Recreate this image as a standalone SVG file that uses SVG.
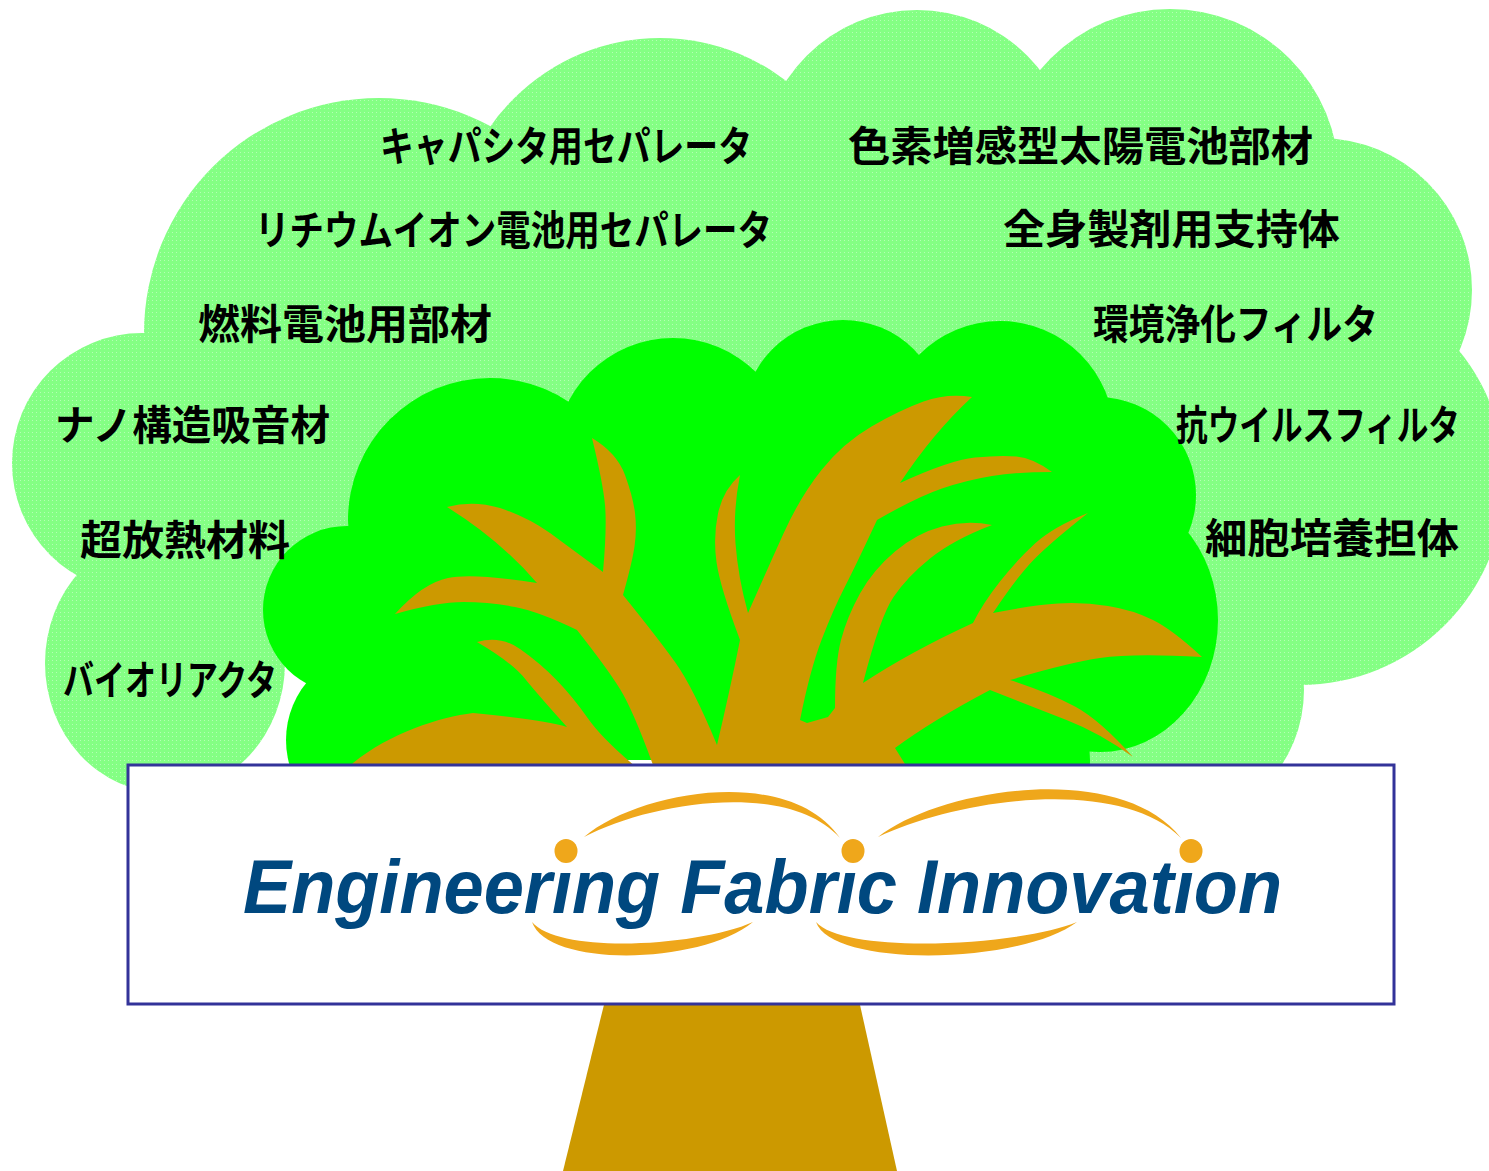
<svg xmlns="http://www.w3.org/2000/svg" width="1489" height="1171" viewBox="0 0 1489 1171">
  <defs>
    <!-- dotted light-green fill for the outer foliage -->
    <pattern id="dots" width="4" height="4" patternUnits="userSpaceOnUse">
      <rect width="4" height="4" fill="#84ff84"/>
      <rect width="1" height="1" fill="#b4ffb4"/>
    </pattern>
    <style>
      .outer { fill: url(#dots); }
      .inner { fill: #00ff00; }
      .wood { fill: #cc9900; }
      .swoosh { fill: #efa71b; }
      .label { font-family: "Noto Sans CJK JP", "Noto Sans CJK SC", sans-serif; font-weight: 700; font-size: 41px; fill: #000; }
      .brand { font-family: "Liberation Sans", Arial, sans-serif; font-weight: 700; font-style: italic; font-size: 76px; fill: #00487f; }
    </style>
  </defs>

  <!-- outer light-green foliage cloud -->
  <g id="cloud" class="outer">
    <polygon points="379,333 660,245 917,166 1170,178 1320,290 1300,480 1167,690 165,663 142,463"/>
    <circle cx="379" cy="333" r="235"/>
    <circle cx="660" cy="245" r="207"/>
    <circle cx="917" cy="166" r="156"/>
    <circle cx="1170" cy="178" r="169"/>
    <circle cx="1320" cy="290" r="152"/>
    <circle cx="1300" cy="480" r="205"/>
    <circle cx="1167" cy="690" r="137"/>
    <circle cx="142" cy="463" r="130"/>
    <ellipse cx="165" cy="663" rx="120" ry="130"/>
  </g>

  <!-- inner bright-green canopy -->
  <g id="canopy" class="inner">
    <polygon points="347,610 490,520 673,456 843,420 1000,435 1098,495 1100,620 960,760 377,760"/>
    <circle cx="490" cy="520" r="142"/>
    <circle cx="673" cy="456" r="118"/>
    <circle cx="843" cy="420" r="100"/>
    <circle cx="1000" cy="435" r="114"/>
    <circle cx="1098" cy="495" r="98"/>
    <ellipse cx="1100" cy="620" rx="118" ry="132"/>
    <circle cx="960" cy="760" r="130"/>
    <circle cx="347" cy="610" r="84"/>
    <circle cx="377" cy="740" r="91"/>
  </g>

  <!-- branches inside the canopy -->
  <g id="branches" class="wood">
    <path d="M640,772 L653,765
      Q633,710 620,689 Q607,668 577,630
      Q540,612 515,607 Q490,602 463.5,602 Q437,602 395,614
      Q423,583 448,578 Q473,573 537,583
      Q500,540 447,507
      Q473,500 500,508 Q527,517 550,533 Q573,550 603,572
      Q607,527 605,505 Q603,483 592,438
      Q617,453 625,475 Q633,497 635,513 Q637,530 634.5,546.5 Q632,563 623,595
      Q657,637 675,662 Q693,687 717,745
      Q730,690 740,640
      Q720,587 716.5,562 Q713,537 718,513.5 Q723,490 740,475
      Q733,510 735.5,543.5 Q738,577 748,613
      Q767,570 783.5,533.5 Q800,497 821.5,470 Q843,443 871.5,426.5 Q900,410 923.5,401.5 Q947,393 972,397
      Q933,433 900,483
      Q950,460 975,457.5 Q1000,455 1016.5,456.5 Q1033,458 1052,472
      Q1017,472 992,476 Q967,480 942,488.5 Q917,497 877,520
      Q857,563 845,586.5 Q833,610 821.5,640 Q810,670 800,720
      L807,723 L828,717 L835,708
      Q835,663 841,640 Q847,617 860,593.5 Q873,570 895,551.5 Q917,533 942,526.5 Q967,520 992,525
      Q953,540 930,558.5 Q907,577 893.5,597 Q880,617 863,683
      Q910,652 973,623
      Q983,603 1000,581.5 Q1017,560 1035,543.5 Q1053,527 1088,513
      Q1050,543 1033.5,560 Q1017,577 993,613
      Q1033,605 1058,603.5 Q1083,602 1108,606 Q1133,610 1153,620 Q1173,630 1202,657
      Q1133,653 1100,658 Q1067,663 1010,680
      Q1050,693 1075,706.5 Q1100,720 1133,757
      Q1100,733 1066.5,720 Q1033,707 990,690
      Q933,720 895,748 L910,772 Z"/>
    <path d="M345,772 L353,763 C390,733 440,717 473,713 C523,718 550,722 567,727
      Q540,697 526,680 Q513,663 477,642
      Q500,635 520,649 Q540,663 556.5,680 Q573,697 588,718.5 Q603,740 642,772 Z"/>
  </g>

  <!-- trunk below the sign -->
  <g id="trunk" class="wood">
    <polygon points="615,960 850,960 897,1171 563,1171"/>
  </g>

  <!-- sign board with logo -->
  <g id="sign">
    <rect x="128" y="765" width="1266" height="239" fill="#ffffff" stroke="#333399" stroke-width="3"/>
    <g id="logo">
      <path class="swoosh" d="M584,837 C640,790 790,765 840,838 C788,780 650,802 584,837 Z"/>
      <path class="swoosh" d="M878,837 C940,788 1120,760 1181,838 C1120,776 960,798 878,837 Z"/>
      <path class="swoosh" d="M532,922 C548,968 700,965 753,922 C700,946 560,955 532,922 Z"/>
      <path class="swoosh" d="M816,922 C832,968 1020,965 1077,922 C1020,946 845,955 816,922 Z"/>
      <ellipse class="swoosh" cx="566" cy="851" rx="11.5" ry="12"/>
      <ellipse class="swoosh" cx="853" cy="851" rx="11.5" ry="12"/>
      <ellipse class="swoosh" cx="1191" cy="851" rx="11.5" ry="12"/>
      <text class="brand" x="243" y="913" textLength="1039" lengthAdjust="spacingAndGlyphs">Engineerıng Fabrıc Innovatıon</text>
    </g>
  </g>

  <!-- application labels -->
  <g id="labels">
    <g id="label-capacitor"><text class="label" x="380" y="161" textLength="372" lengthAdjust="spacingAndGlyphs">キャパシタ用セパレータ</text></g>
    <g id="label-liion"><text class="label" x="255" y="245" textLength="517" lengthAdjust="spacingAndGlyphs">リチウムイオン電池用セパレータ</text></g>
    <g id="label-fuelcell"><text class="label" x="198" y="339" textLength="294" lengthAdjust="spacingAndGlyphs">燃料電池用部材</text></g>
    <g id="label-dssc"><text class="label" x="848" y="161" textLength="465" lengthAdjust="spacingAndGlyphs">色素増感型太陽電池部材</text></g>
    <g id="label-systemic"><text class="label" x="1003" y="244" textLength="337" lengthAdjust="spacingAndGlyphs">全身製剤用支持体</text></g>
    <g id="label-envfilter"><text class="label" x="1093" y="339" textLength="285" lengthAdjust="spacingAndGlyphs">環境浄化フィルタ</text></g>
    <g id="label-acoustic"><text class="label" x="55" y="440" textLength="275" lengthAdjust="spacingAndGlyphs">ナノ構造吸音材</text></g>
    <g id="label-thermal"><text class="label" x="80" y="555" textLength="210" lengthAdjust="spacingAndGlyphs">超放熱材料</text></g>
    <g id="label-bioreactor"><text class="label" x="63" y="695" textLength="214" lengthAdjust="spacingAndGlyphs">バイオリアクタ</text></g>
    <g id="label-antiviral"><text class="label" x="1176" y="440" textLength="284" lengthAdjust="spacingAndGlyphs">抗ウイルスフィルタ</text></g>
    <g id="label-cellculture"><text class="label" x="1205" y="553" textLength="254" lengthAdjust="spacingAndGlyphs">細胞培養担体</text></g>
  </g>
</svg>
